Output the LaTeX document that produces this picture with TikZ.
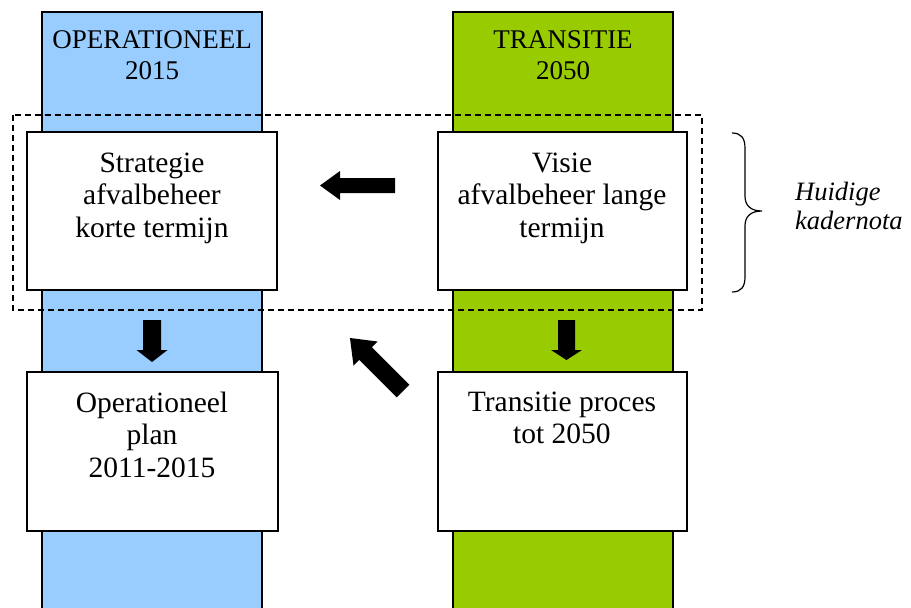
\documentclass[tikz,border=0pt]{standalone}
\usepackage{fontspec}
\setmainfont{Liberation Serif}
\definecolor{colblue}{RGB}{153,204,255}
\definecolor{colgreen}{RGB}{153,204,0}
\tikzset{
  colborder/.style={line width=1.5pt},
  boxstyle/.style={draw, line width=1.5pt, fill=white, inner sep=0pt},
  frame/.style={dash pattern=on 6pt off 4pt, line width=1.2pt},
  bodytext/.style={font=\fontsize{29.5}{32.5}\selectfont, align=center, inner sep=0pt, anchor=north},
  headtext/.style={font=\fontsize{27}{31}\selectfont, align=center, inner sep=0pt, anchor=north},
  notetext/.style={font=\itshape\fontsize{26.5}{28.5}\selectfont, align=left, inner sep=0pt, anchor=north west},
  bracestyle/.style={line width=1.2pt},
}
% tail point, angle, length, shaft half width, head half width, head length
\newcommand\myblockarrow[6]{%
  \fill[black, shift={(#1)}, rotate=#2]
    (0,-#4) -- ({#3-#6},-#4) -- ({#3-#6},-#5) -- (#3,0) -- ({#3-#6},#5) -- ({#3-#6},#4) -- (0,#4) -- cycle;}
\begin{document}
\begin{tikzpicture}[x=1pt,y=-1pt]
  \useasboundingbox (0,0) rectangle (911,608);
  % columns
  \fill[colblue] (42,12) rectangle (262,608);
  \draw[colborder] (42,608) -- (42,12) -- (262,12) -- (262,608);
  \fill[colgreen] (453,12) rectangle (673,608);
  \draw[colborder] (453,608) -- (453,12) -- (673,12) -- (673,608);
  \node[headtext] (h1) at (152,30.5) {OPERATIONEEL\\2015};
  \node[headtext] (h2) at (563,30.5) {TRANSITIE\\2050};
  % dashed frame
  \draw[frame] (13,115) rectangle (702,310);
  % boxes
  \node[boxstyle, minimum width=250pt, minimum height=158pt] (strat) at (152,211) {};
  \node[boxstyle, minimum width=249pt, minimum height=158pt] (visie) at (562.5,211) {};
  \node[boxstyle, minimum width=251pt, minimum height=159pt] (ops) at (152.5,451.5) {};
  \node[boxstyle, minimum width=249pt, minimum height=159pt] (trans) at (562.5,451.5) {};
  \node[bodytext] (tstrat) at (152,152.5) {Strategie\\afvalbeheer\\korte termijn};
  \node[bodytext] (tvisie) at (562,152.5) {Visie\\afvalbeheer lange\\termijn};
  \node[bodytext] (tops) at (152,391.5) {Operationeel\\plan\\2011-2015};
  \node[bodytext] (ttrans) at (562,391.5) {Transitie proces\\tot 2050};
  % block arrows
  \myblockarrow{395,185.5}{180}{75}{7.5}{14.5}{20}
  \myblockarrow{152,320}{-90}{42}{9}{15.5}{12}
  \myblockarrow{566.5,320}{-90}{40}{8.5}{15.5}{10}
  \myblockarrow{403,391}{135}{75}{9}{17}{22}
  % brace
  \draw[bracestyle] (732,133) .. controls (741,133) and (745,138) .. (745,148)
    -- (745,196) .. controls (745,205) and (750,211) .. (762,211)
    .. controls (750,211) and (745,217) .. (745,226)
    -- (745,277) .. controls (745,287) and (741,292) .. (732,292);
  \node[notetext] (note) at (795,182) {Huidige\\kadernota};
\end{tikzpicture}
\end{document}
